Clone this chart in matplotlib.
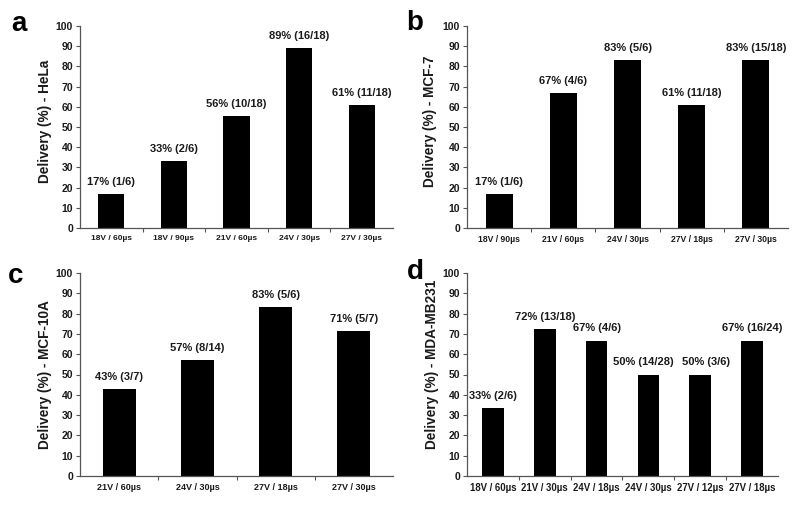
import matplotlib.pyplot as plt
from matplotlib.ticker import MultipleLocator, FixedLocator

plt.rcParams['font.family'] = ['Liberation Sans', 'DejaVu Sans']
plt.rcParams['font.weight'] = 'bold'

# ---------------------------
# Data
# ---------------------------
hela_labels = ['18V / 60µs', '18V / 90µs', '21V / 60µs', '24V / 30µs', '27V / 30µs']
hela_values = [16.7, 33.3, 55.6, 88.9, 61.1]
hela_text = ['17% (1/6)', '33% (2/6)', '56% (10/18)', '89% (16/18)', '61% (11/18)']

mcf7_labels = ['18V / 90µs', '21V / 60µs', '24V / 30µs', '27V / 18µs', '27V / 30µs']
mcf7_values = [16.7, 66.7, 83.3, 61.1, 83.3]
mcf7_text = ['17% (1/6)', '67% (4/6)', '83% (5/6)', '61% (11/18)', '83% (15/18)']

mcf10a_labels = ['21V / 60µs', '24V / 30µs', '27V / 18µs', '27V / 30µs']
mcf10a_values = [42.9, 57.1, 83.3, 71.4]
mcf10a_text = ['43% (3/7)', '57% (8/14)', '83% (5/6)', '71% (5/7)']

mda_labels = ['18V / 60µs', '21V / 30µs', '24V / 18µs', '24V / 30µs', '27V / 12µs', '27V / 18µs']
mda_values = [33.3, 72.2, 66.7, 50.0, 50.0, 66.7]
mda_text = ['33% (2/6)', '72% (13/18)', '67% (4/6)', '50% (14/28)', '50% (3/6)', '67% (16/24)']

# layout per panel: axes rect in px (left, top, right, bottom), xtick size,
# ylabel (right edge px, y frac), letter pos px, small label nudges
panels = [
    ('a', 'Delivery (%) - HeLa', hela_labels, hela_values, hela_text,
     (80, 26, 393, 228), 6.0, (52, 0.53), (19, 24), None),
    ('b', 'Delivery (%) - MCF-7', mcf7_labels, mcf7_values, mcf7_text,
     (467, 26, 788, 228), 6.2, (437, 0.53), (415, 23), None),
    ('c', 'Delivery (%) - MCF-10A', mcf10a_labels, mcf10a_values, mcf10a_text,
     (80, 273, 393, 476), 6.5, (52, 0.50), (16, 276), None),
    ('d', 'Delivery (%) - MDA-MB231', mda_labels, mda_values, mda_text,
     (467, 273, 778, 476), 6.9, (439, 0.55), (415, 272), [0, 0, 0, -0.09, 0.11, 0]),
]

W, H = 800, 511
fig = plt.figure(figsize=(W / 100, H / 100), dpi=100)
txt = '#1a1a1a'
axc = '#555555'

for letter, ylabel, labels, values, texts, px, xfs, lab_pos, lpos, nudge in panels:
    l, t, r, b = px
    ax = fig.add_axes([l / W, 1 - b / H, (r - l) / W, (b - t) / H])
    x = list(range(len(labels)))
    ax.bar(x, values, width=0.42, color='black')
    if nudge is None:
        nudge = [0] * len(x)
    for xi, v, s, dx in zip(x, values, texts, nudge):
        ax.text(xi + dx, v + 3.5, s, ha='center', va='bottom', fontsize=8, color=txt, fontweight='bold')
    ax.set_xlim(-0.5, len(labels) - 0.5)
    ax.set_ylim(0, 100)
    ax.yaxis.set_major_locator(MultipleLocator(10))
    ax.set_xticks(x)
    ax.set_xticklabels(labels, fontsize=xfs, color=txt, fontweight='bold')
    ax.xaxis.set_minor_locator(FixedLocator([i + 0.5 for i in range(len(labels) - 1)]))
    ax.tick_params(axis='x', which='major', length=0, pad=5)
    ax.tick_params(axis='x', which='minor', length=3, width=0.8, color=axc, direction='out')
    ax.tick_params(axis='y', length=3, width=0.8, color=axc, labelsize=7.5, labelcolor=txt, pad=2)
    for lab in ax.get_yticklabels():
        lab.set_fontweight('bold')
    for side in ['top', 'right']:
        ax.spines[side].set_visible(False)
    for side in ['left', 'bottom']:
        ax.spines[side].set_color(axc)
        ax.spines[side].set_linewidth(0.9)
    ax.set_ylabel(ylabel, fontsize=9.8, fontweight='bold', color=txt)
    ax.yaxis.set_label_coords((lab_pos[0] - l) / (r - l), lab_pos[1])
    fig.text(lpos[0] / W, 1 - lpos[1] / H, letter, fontsize=20, fontweight='bold',
             color='black', va='center', ha='center')

fig.savefig('out.png', dpi=100)
